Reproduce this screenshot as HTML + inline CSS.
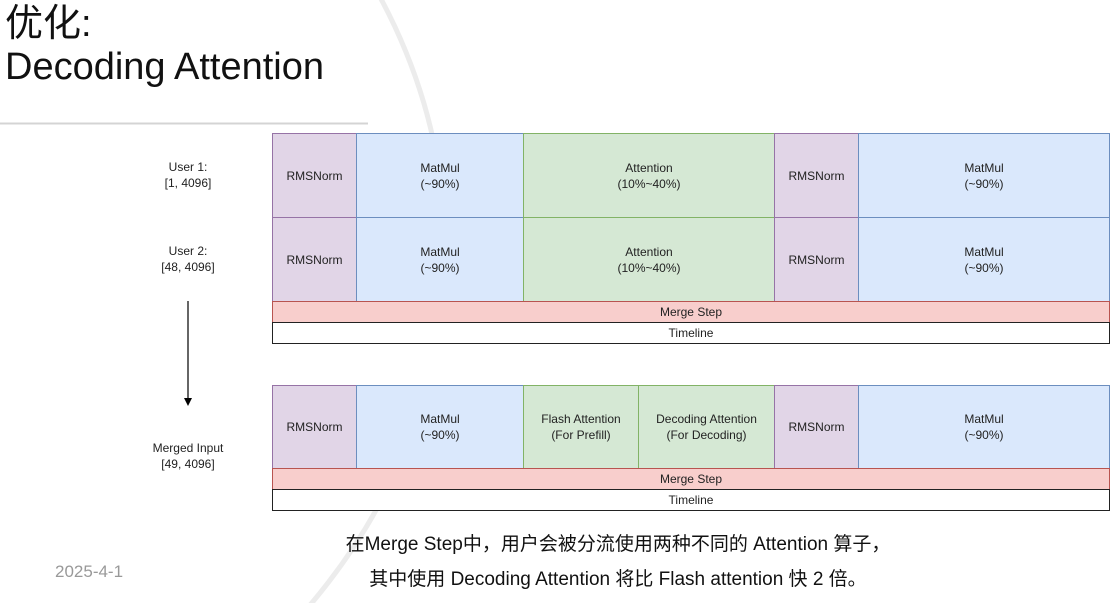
<!DOCTYPE html>
<html><head><meta charset="utf-8"><style>
html,body{margin:0;width:1119px;height:603px;overflow:hidden}
body{background:#fff;position:relative;font-family:"Liberation Sans","Noto Sans CJK SC",sans-serif}
.a{position:absolute}
.b{position:absolute;box-sizing:border-box;display:flex;align-items:center;justify-content:center;text-align:center;font-size:12px;line-height:16px;color:#222}
.p{background:#e1d5e7;border:1px solid #9673a6}
.u{background:#dae8fc;border:1px solid #6c8ebf}
.g{background:#d5e8d4;border:1px solid #82b366}
.r{background:#f8cecc;border:1px solid #b85450}
.w{background:#fff;border:1px solid #222}
.lab{position:absolute;width:120px;text-align:center;font-size:12px;line-height:16px;color:#222}
</style></head><body>
<svg class="a" style="left:0;top:0" width="1119" height="603"><ellipse cx="-272" cy="250" rx="717" ry="608" fill="none" stroke="#ececec" stroke-width="5"/>
<rect x="272" y="133" width="838" height="378" fill="#fff"/>
<line x1="188" y1="301" x2="188" y2="400" stroke="#000" stroke-width="1.2"/><polygon points="184,398 192,398 188,406" fill="#000"/>
<line x1="0" y1="123.5" x2="368" y2="123.5" stroke="#d4d4d4" stroke-width="2"/></svg>
<div class="a" style="left:5px;top:3px;font-size:38px;line-height:42px;color:#111">优化:</div>
<div class="a" style="left:5px;top:46px;font-size:38px;line-height:42px;color:#111">Decoding Attention</div>
<div class="lab" style="left:128px;top:159px">User 1:<br>[1, 4096]</div>
<div class="lab" style="left:128px;top:243px">User 2:<br>[48, 4096]</div>
<div class="lab" style="left:128px;top:440px">Merged Input<br>[49, 4096]</div>

<div class="b p" style="left:272px;top:133px;width:85px;height:85px">RMSNorm</div>
<div class="b u" style="left:356px;top:133px;width:168px;height:85px">MatMul<br>(~90%)</div>
<div class="b g" style="left:523px;top:133px;width:252px;height:85px">Attention<br>(10%~40%)</div>
<div class="b p" style="left:774px;top:133px;width:85px;height:85px">RMSNorm</div>
<div class="b u" style="left:858px;top:133px;width:252px;height:85px">MatMul<br>(~90%)</div>

<div class="b p" style="left:272px;top:217px;width:85px;height:85px">RMSNorm</div>
<div class="b u" style="left:356px;top:217px;width:168px;height:85px">MatMul<br>(~90%)</div>
<div class="b g" style="left:523px;top:217px;width:252px;height:85px">Attention<br>(10%~40%)</div>
<div class="b p" style="left:774px;top:217px;width:85px;height:85px">RMSNorm</div>
<div class="b u" style="left:858px;top:217px;width:252px;height:85px">MatMul<br>(~90%)</div>
<div class="b r" style="left:272px;top:301px;width:838px;height:22px">Merge Step</div>
<div class="b w" style="left:272px;top:322px;width:838px;height:22px">Timeline</div>

<div class="b p" style="left:272px;top:385px;width:85px;height:84px">RMSNorm</div>
<div class="b u" style="left:356px;top:385px;width:168px;height:84px">MatMul<br>(~90%)</div>
<div class="b g" style="left:523px;top:385px;width:116px;height:84px">Flash Attention<br>(For Prefill)</div>
<div class="b g" style="left:638px;top:385px;width:137px;height:84px">Decoding Attention<br>(For Decoding)</div>
<div class="b p" style="left:774px;top:385px;width:85px;height:84px">RMSNorm</div>
<div class="b u" style="left:858px;top:385px;width:252px;height:84px">MatMul<br>(~90%)</div>
<div class="b r" style="left:272px;top:468px;width:838px;height:22px">Merge Step</div>
<div class="b w" style="left:272px;top:489px;width:838px;height:22px">Timeline</div>

<div class="a" style="left:118px;width:1000px;top:533px;text-align:center;font-size:19px;line-height:24px;color:#111;white-space:nowrap">在Merge Step中，用户会被分流使用两种不同的 Attention 算子，</div>
<div class="a" style="left:118px;width:1000px;top:568px;text-align:center;font-size:19px;line-height:24px;color:#111;white-space:nowrap">其中使用 Decoding Attention 将比 Flash attention 快 2 倍。</div>
<div class="a" style="left:55px;top:562px;font-size:17px;line-height:20px;color:#999">2025-4-1</div>
</body></html>
